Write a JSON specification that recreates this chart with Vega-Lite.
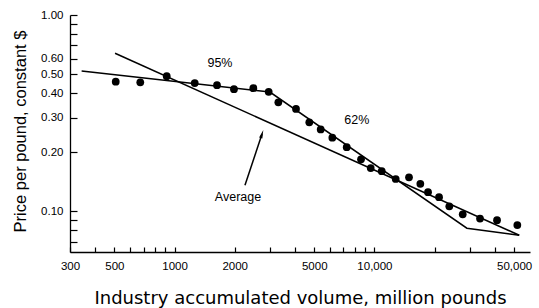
{
  "$schema": "https://vega.github.io/schema/vega-lite/v6.json",
  "width": 460,
  "height": 237,
  "autosize": {"type": "none"},
  "padding": {"left": 70, "top": 15, "right": 9, "bottom": 56},
  "config": {
    "view": {"stroke": null},
    "font": "Liberation Sans",
    "axis": {
      "grid": false,
      "domainColor": "black",
      "tickColor": "black",
      "labelColor": "black",
      "titleColor": "black",
      "labelFont": "Liberation Sans",
      "titleFont": "Liberation Sans",
      "titleFontWeight": "normal",
      "labelOverlap": false,
      "labelFlush": false,
      "domainWidth": 1.3,
      "tickWidth": 1.2
    }
  },
  "datasets": {
    "points": [
      {"x": 508, "y": 0.457}, {"x": 674, "y": 0.454}, {"x": 914, "y": 0.488},
      {"x": 1262, "y": 0.45}, {"x": 1631, "y": 0.439}, {"x": 1983, "y": 0.419},
      {"x": 2478, "y": 0.424}, {"x": 2958, "y": 0.406}, {"x": 3306, "y": 0.359},
      {"x": 4052, "y": 0.332}, {"x": 4722, "y": 0.284}, {"x": 5385, "y": 0.261},
      {"x": 6157, "y": 0.237}, {"x": 7267, "y": 0.212}, {"x": 8568, "y": 0.184},
      {"x": 9580, "y": 0.166}, {"x": 10876, "y": 0.16}, {"x": 12777, "y": 0.146},
      {"x": 14890, "y": 0.149}, {"x": 16966, "y": 0.138}, {"x": 18537, "y": 0.125},
      {"x": 21046, "y": 0.118}, {"x": 23686, "y": 0.106}, {"x": 27644, "y": 0.0965},
      {"x": 33740, "y": 0.0918}, {"x": 41040, "y": 0.09}, {"x": 51850, "y": 0.085}
    ],
    "lines": [
      {"series": "curve", "x": 343, "y": 0.518},
      {"series": "curve", "x": 3000, "y": 0.405},
      {"series": "curve", "x": 29000, "y": 0.082},
      {"series": "curve", "x": 53000, "y": 0.0755},
      {"series": "average", "x": 504, "y": 0.638},
      {"series": "average", "x": 53000, "y": 0.0755}
    ],
    "labels": [
      {"label": "95%", "x": 1688, "y": 0.569},
      {"label": "62%", "x": 8157, "y": 0.291},
      {"label": "Average", "x": 2077, "y": 0.118}
    ],
    "arrow": [
      {"x": 2251, "y": 0.1358, "x2": 2739, "y2": 0.2477}
    ],
    "arrowhead": [
      {"x": 2739, "y": 0.2477}
    ]
  },
  "encoding": {
    "x": {
      "field": "x",
      "type": "quantitative",
      "scale": {"type": "log", "domain": [300, 60000], "nice": false},
      "axis": {
        "values": [300, 400, 500, 600, 700, 800, 900, 1000, 2000, 3000, 4000, 5000, 6000, 7000, 8000, 9000, 10000, 20000, 30000, 40000, 50000],
        "labelExpr": "datum.value==300?'300':datum.value==500?'500':datum.value==1000?'1000':datum.value==2000?'2000':datum.value==5000?'5000':datum.value==10000?'10,000':datum.value==50000?'50,000':''",
        "tickSize": -5,
        "labelPadding": 13,
        "labelFontSize": 11.5,
        "title": "Industry accumulated volume, million pounds",
        "titleFont": "DejaVu Sans",
        "titleFontSize": 18,
        "titleX": 230,
        "titleY": 46,
        "titleAnchor": null,
        "titleAlign": "center",
        "titleBaseline": "middle"
      }
    },
    "y": {
      "field": "y",
      "type": "quantitative",
      "scale": {"type": "log", "domain": [0.062, 1.0], "nice": false},
      "axis": {
        "values": [0.07, 0.08, 0.09, 0.1, 0.2, 0.3, 0.4, 0.5, 0.6, 0.7, 0.8, 0.9, 1.0],
        "labelExpr": "(datum.value==0.07||datum.value==0.08||datum.value==0.09||datum.value==0.7||datum.value==0.8||datum.value==0.9) ? '' : format(datum.value, '.2f')",
        "tickSize": -7,
        "labelPadding": 14,
        "labelFontSize": 11.5,
        "title": "Price per pound, constant $",
        "titleFontSize": 16.5,
        "titleX": -50,
        "titleY": 116,
        "titleAngle": -90,
        "titleAlign": "center",
        "titleBaseline": "middle"
      }
    }
  },
  "layer": [
    {
      "data": {"name": "lines"},
      "mark": {"type": "line", "color": "black", "strokeWidth": 1.5},
      "encoding": {"detail": {"field": "series"}}
    },
    {
      "data": {"name": "points"},
      "mark": {"type": "point", "filled": true, "color": "black", "size": 60, "opacity": 1}
    },
    {
      "data": {"name": "labels"},
      "mark": {"type": "text", "fontSize": 12.5, "color": "black", "align": "center", "baseline": "middle"},
      "encoding": {"text": {"field": "label"}}
    },
    {
      "data": {"name": "arrow"},
      "mark": {"type": "rule", "color": "black", "strokeWidth": 1.5},
      "encoding": {"x2": {"field": "x2"}, "y2": {"field": "y2"}}
    },
    {
      "data": {"name": "arrowhead"},
      "mark": {"type": "point", "filled": true, "color": "black", "opacity": 1, "size": 70, "angle": 18, "shape": "M0,-1L0.4,1L-0.4,1Z"}
    }
  ]
}
